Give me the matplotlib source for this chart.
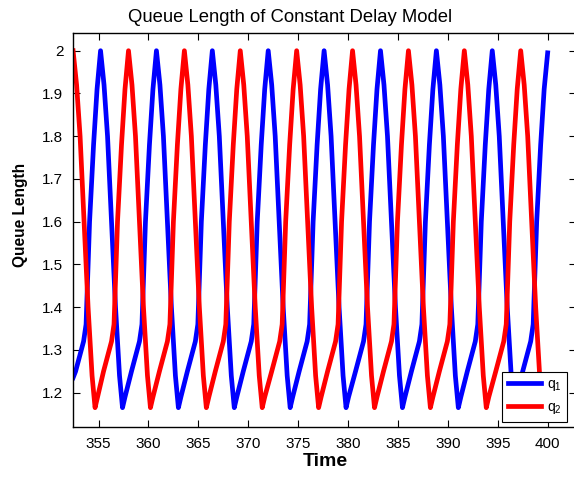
import matplotlib
matplotlib.use("Agg")
import matplotlib.pyplot as plt

plt.rcParams['font.family'] = ['Liberation Sans', 'DejaVu Sans']
plt.rcParams['mathtext.fontset'] = 'custom'
plt.rcParams['mathtext.rm'] = 'Liberation Sans'
plt.rcParams['mathtext.it'] = 'Liberation Sans'

title = "Queue Length of Constant Delay Model"
xlabel = "Time"
ylabel = "Queue Length"
x_ticks = [355, 360, 365, 370, 375, 380, 385, 390, 395, 400]
y_ticks = [1.2, 1.3, 1.4, 1.5, 1.6, 1.7, 1.8, 1.9, 2.0]
y_tick_labels = ["1.2", "1.3", "1.4", "1.5", "1.6", "1.7", "1.8", "1.9", "2"]
series_names = [r"$\mathregular{q_1}$", r"$\mathregular{q_2}$"]

t_q1 = [352.45, 352.7, 353.5, 353.75, 354.1, 354.5, 354.85,
        355.2, 355.55, 355.9, 356.2, 356.7, 357.1, 357.4, 357.65, 358.3, 359.1, 359.35, 359.7, 360.1, 360.45,
        360.8, 361.15, 361.5, 361.8, 362.3, 362.7, 363.0, 363.25, 363.9, 364.7, 364.95, 365.3, 365.7, 366.05,
        366.4, 366.75, 367.1, 367.4, 367.9, 368.3, 368.6, 368.85, 369.5, 370.3, 370.55, 370.9, 371.3, 371.65,
        372.0, 372.35, 372.7, 373.0, 373.5, 373.9, 374.2, 374.45, 375.1, 375.9, 376.15, 376.5, 376.9, 377.25,
        377.6, 377.95, 378.3, 378.6, 379.1, 379.5, 379.8, 380.05, 380.75, 381.55, 381.8, 382.15, 382.55, 382.9,
        383.25, 383.6, 383.95, 384.25, 384.75, 385.15, 385.45, 385.7, 386.35, 387.15, 387.4, 387.75, 388.15, 388.5,
        388.85, 389.2, 389.55, 389.85, 390.35, 390.75, 391.05, 391.3, 391.95, 392.75, 393.0, 393.35, 393.75, 394.1,
        394.45, 394.8, 395.15, 395.45, 395.95, 396.35, 396.65, 396.9, 397.5, 398.3, 398.55, 398.9, 399.3, 399.65,
        400.0]
q1 = [1.235, 1.25, 1.32, 1.36, 1.60, 1.78, 1.91,
      2.00, 1.92, 1.80, 1.65, 1.40, 1.24, 1.165, 1.19, 1.25, 1.32, 1.36, 1.60, 1.78, 1.91,
      2.00, 1.92, 1.80, 1.65, 1.40, 1.24, 1.165, 1.19, 1.25, 1.32, 1.36, 1.60, 1.78, 1.91,
      2.00, 1.92, 1.80, 1.65, 1.40, 1.24, 1.165, 1.19, 1.25, 1.32, 1.36, 1.60, 1.78, 1.91,
      2.00, 1.92, 1.80, 1.65, 1.40, 1.24, 1.165, 1.19, 1.25, 1.32, 1.36, 1.60, 1.78, 1.91,
      2.00, 1.92, 1.80, 1.65, 1.40, 1.24, 1.165, 1.19, 1.25, 1.32, 1.36, 1.60, 1.78, 1.91,
      2.00, 1.92, 1.80, 1.65, 1.40, 1.24, 1.165, 1.19, 1.25, 1.32, 1.36, 1.60, 1.78, 1.91,
      2.00, 1.92, 1.80, 1.65, 1.40, 1.24, 1.165, 1.19, 1.25, 1.32, 1.36, 1.60, 1.78, 1.91,
      2.00, 1.92, 1.80, 1.65, 1.40, 1.24, 1.165, 1.19, 1.25, 1.32, 1.36, 1.60, 1.78, 1.91,
      1.995]

t_q2 = [352.45, 352.8, 353.15, 353.45, 353.95, 354.35, 354.65, 354.9, 355.5, 356.3, 356.55, 356.9, 357.3, 357.65,
        358.0, 358.35, 358.7, 359.0, 359.5, 359.9, 360.2, 360.45, 361.1, 361.9, 362.15, 362.5, 362.9, 363.25,
        363.6, 363.95, 364.3, 364.6, 365.1, 365.5, 365.8, 366.05, 366.7, 367.5, 367.75, 368.1, 368.5, 368.85,
        369.2, 369.55, 369.9, 370.2, 370.7, 371.1, 371.4, 371.65, 372.35, 373.15, 373.4, 373.75, 374.15, 374.5,
        374.85, 375.2, 375.55, 375.85, 376.35, 376.75, 377.05, 377.3, 377.95, 378.75, 379.0, 379.35, 379.75, 380.1,
        380.45, 380.8, 381.15, 381.45, 381.95, 382.35, 382.65, 382.9, 383.55, 384.35, 384.6, 384.95, 385.35, 385.7,
        386.05, 386.4, 386.75, 387.05, 387.55, 387.95, 388.25, 388.5, 389.15, 389.95, 390.2, 390.55, 390.95, 391.3,
        391.65, 392.0, 392.35, 392.65, 393.15, 393.55, 393.85, 394.1, 394.8, 395.6, 395.85, 396.2, 396.6, 396.95,
        397.3, 397.65, 398.0, 398.3, 398.8, 399.2, 399.5, 399.75, 400.0]
q2 = [2.00, 1.92, 1.80, 1.65, 1.40, 1.24, 1.165, 1.19, 1.25, 1.32, 1.36, 1.60, 1.78, 1.91,
      2.00, 1.92, 1.80, 1.65, 1.40, 1.24, 1.165, 1.19, 1.25, 1.32, 1.36, 1.60, 1.78, 1.91,
      2.00, 1.92, 1.80, 1.65, 1.40, 1.24, 1.165, 1.19, 1.25, 1.32, 1.36, 1.60, 1.78, 1.91,
      2.00, 1.92, 1.80, 1.65, 1.40, 1.24, 1.165, 1.19, 1.25, 1.32, 1.36, 1.60, 1.78, 1.91,
      2.00, 1.92, 1.80, 1.65, 1.40, 1.24, 1.165, 1.19, 1.25, 1.32, 1.36, 1.60, 1.78, 1.91,
      2.00, 1.92, 1.80, 1.65, 1.40, 1.24, 1.165, 1.19, 1.25, 1.32, 1.36, 1.60, 1.78, 1.91,
      2.00, 1.92, 1.80, 1.65, 1.40, 1.24, 1.165, 1.19, 1.25, 1.32, 1.36, 1.60, 1.78, 1.91,
      2.00, 1.92, 1.80, 1.65, 1.40, 1.24, 1.165, 1.19, 1.25, 1.32, 1.36, 1.60, 1.78, 1.91,
      2.00, 1.92, 1.80, 1.65, 1.40, 1.24, 1.165, 1.19, 1.21]

fig = plt.figure(figsize=(5.74, 4.80), dpi=100)
ax = fig.add_axes([73 / 574, 1 - 427 / 480, 503 / 574, 394 / 480])

l1, = ax.plot(t_q1, q1, color=(0, 0, 1), lw=3.4, solid_joinstyle='round')
l2, = ax.plot(t_q2, q2, color=(1, 0, 0), lw=3.4, solid_joinstyle='round')

ax.set_xlim(352.44, 402.84)
ax.set_ylim(1.1198, 2.0414)
ax.set_xticks(x_ticks)
ax.set_xticklabels([str(v) for v in x_ticks])
ax.set_yticks(y_ticks)
ax.set_yticklabels(y_tick_labels)
ax.tick_params(direction='in', length=5, width=0.8, top=True, right=True,
               labelsize=11, pad=7, colors='black')
for s in ax.spines.values():
    s.set_linewidth(1.0)
    s.set_color('black')

fig.text(290 / 574, 1 - 17 / 480, title, ha='center', va='center', fontsize=13.3)
ax.set_xlabel(xlabel, fontsize=14, fontweight='bold')
ax.xaxis.set_label_coords((325 - 73) / 503, -(462 - 427) / 394)
ax.set_ylabel(ylabel, fontsize=11.2, fontweight='bold')
ax.yaxis.set_label_coords(-(73 - 21) / 503, (427 - 215) / 394)
ax.xaxis.label.set_va('center')
ax.yaxis.label.set_va('center')

leg = ax.legend([l1, l2], series_names, loc='lower right',
                bbox_to_anchor=(0.982, 0.0135), borderaxespad=0,
                fontsize=10, handlelength=2.4, fancybox=False, framealpha=1,
                edgecolor='black', borderpad=0.4, labelspacing=0.5,
                handletextpad=0.4)
leg.get_frame().set_linewidth(0.8)

fig.savefig("out.png", dpi=100)
